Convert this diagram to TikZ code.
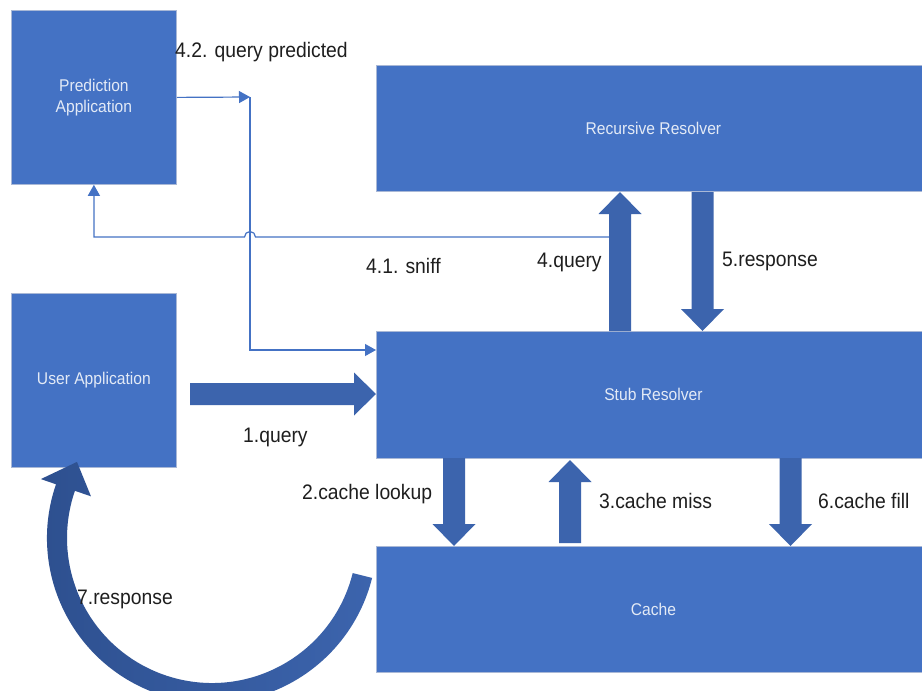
\documentclass[tikz,border=0pt]{standalone}
\usepackage{fontspec}
\usetikzlibrary{arrows.meta,calc}
\newfontfamily\diagfont[FakeStretch=0.92]{Liberation Sans}
\definecolor{boxblue}{HTML}{4472C4}
\definecolor{arrowblue}{HTML}{3C64AD}
\definecolor{curvedark}{HTML}{2D4F8E}
\definecolor{boxedge}{HTML}{A9B8D6}
\definecolor{boxtext}{HTML}{E3EAF6}
\definecolor{labeltext}{HTML}{1E1E1E}

% vertical block arrow: x centre, y of tail, y of tip
\newcommand{\vblockarrow}[3]{%
  \pgfmathsetmacro{\hb}{#3-22*sign(#3-#2)}%
  \fill[blockarrow] (#1-11,#2) -- (#1-11,\hb) -- (#1-21.5,\hb) -- (#1,#3)
    -- (#1+21.5,\hb) -- (#1+11,\hb) -- (#1+11,#2) -- cycle;}

\begin{document}
\begin{tikzpicture}[x=1pt,y=-1pt,
  box/.style={draw=boxedge, line width=0.8pt, fill=boxblue, text=boxtext,
    font=\diagfont\fontsize{17}{21}\selectfont, align=center, inner sep=0pt,
    anchor=north west},
  blockarrow/.style={fill=arrowblue},
  thinline/.style={draw=boxblue, line width=1.2pt},
  tip/.style={-{Triangle[length=11pt,width=12pt]}},
  lab/.style={font=\diagfont\fontsize{21}{24}\selectfont, text=labeltext,
    inner sep=0pt, anchor=base west}]

\fill[white] (0,0) rectangle (922,691);
\useasboundingbox (0,0) rectangle (922,691);

% boxes
\node[box, minimum width=165pt, minimum height=174pt] (pred) at (11,10) {Prediction\\Application};
\node[box, minimum width=165pt, minimum height=174pt] (user) at (11,293) {User Application};
\node[box, minimum width=554pt, minimum height=126pt] (rec) at (376,65) {Recursive Resolver};
\node[box, minimum width=554pt, minimum height=127pt] (stub) at (376,331) {Stub Resolver};
\node[box, minimum width=554pt, minimum height=126pt] (cache) at (376,546) {Cache};

% prediction path: predicted query handed to the stub resolver
\coordinate (q1) at (250,97);
\coordinate (q2) at (250,350);
\draw[thinline, tip] (pred.east) -- (q1);
\draw[thinline, tip] (q1) -- (q2) -- (q2 -| stub.west);

% sniffed query, jumping over the vertical line
\coordinate (sn0) at (609,237);
\coordinate (sn1) at (255.5,237);
\draw[thinline, tip] (sn0) -- (sn1) arc[start angle=0, end angle=-180, radius=5.5]
  -- (pred.south |- sn0) -- (pred.south);

% block arrows
\fill[blockarrow] (190,383) -- (354,383) -- (354,372.5) -- (stub.west |- 0,394)
  -- (354,415.5) -- (354,405) -- (190,405) -- cycle;
\vblockarrow{620}{331}{192}
\vblockarrow{702.5}{192}{331}
\vblockarrow{454}{458}{546}
\vblockarrow{570}{543}{460}
\vblockarrow{790.5}{458}{546}

% response returned to the user application
\coordinate (C) at (212,538);
\shade[left color=curvedark, right color=arrowblue]
  ($(C)+(14:145)$) arc[start angle=14, end angle=199, radius=145]
  -- ($(C)+(199:128)$) -- ($(C)+(209.4:155)$) -- ($(C)+(199:181)$)
  -- ($(C)+(199:165)$) arc[start angle=199, end angle=14, radius=165] -- cycle;

% labels
\node[lab] (l42) at (175,57) {4.2. query predicted};
\node[lab] (l41) at (366,273) {4.1. sniff};
\node[lab] (l4) at (537,267) {4.query};
\node[lab] (l5) at (722,266) {5.response};
\node[lab] (l1) at (243,442) {1.query};
\node[lab] (l2) at (302,499) {2.cache lookup};
\node[lab] (l3) at (599,508) {3.cache miss};
\node[lab] (l6) at (818,508) {6.cache fill};
\node[lab] (l7) at (77,604) {7.response};
\end{tikzpicture}
\end{document}
